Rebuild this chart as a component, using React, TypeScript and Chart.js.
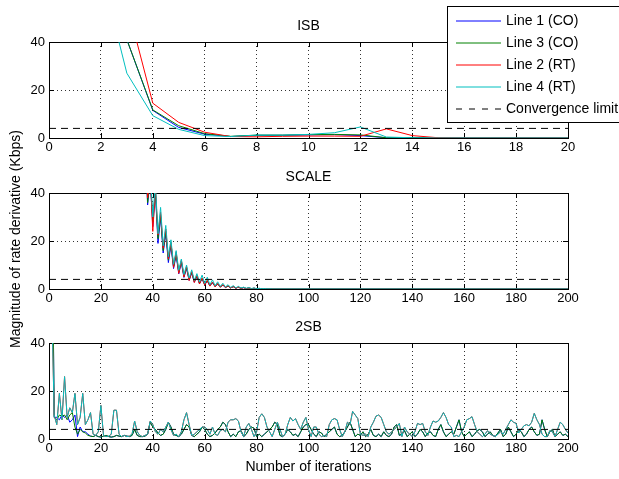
import React, { useEffect, useRef } from "react";
import { Chart, registerables } from "chart.js";

Chart.register(...registerables);

const FONT = "'Liberation Sans', Arial, Helvetica, sans-serif";

// ---------- shared labels / styles ----------
const legendLabels = ["Line 1 (CO)", "Line 3 (CO)", "Line 2 (RT)", "Line 4 (RT)", "Convergence limit"];
const lineColors = ["#0000ff", "#008000", "#ff0000", "#00bfbf", "#000000"];
const panelTitles = ["ISB", "SCALE", "2SB"];
const yAxisTitle = "Magnitude of rate derivative (Kbps)";
const xAxisTitle = "Number of iterations";
const convergenceLimit = 4;
const yTicks = [0, 20, 40];
const isbXTicks = [0, 2, 4, 6, 8, 10, 12, 14, 16, 18, 20];
const longXTicks = [0, 20, 40, 60, 80, 100, 120, 140, 160, 180, 200];

// ---------- ISB (iterations 1..20) ----------
const isbLine1 = [150, 90, 41, 11.5, 4.4, 1.6, 0.6, 1.1, 1.1, 1.3, 1.4, 1.0, 0.1, 0.1, 0, 0, 0, 0, 0, 0];
const isbLine3 = [150, 90, 41, 11.7, 5.1, 1.8, 0.7, 1.2, 1.2, 1.4, 1.5, 1.3, 0.1, 0.1, 0, 0, 0, 0, 0, 0];
const isbLine2 = [200, 120, 56, 14.5, 6.5, 2.4, 0.6, 0.5, 0.7, 0.8, 0.8, 0.7, 3.8, 1.0, 0.1, 0, 0, 0, 0, 0];
const isbLine4 = [150, 70, 27, 9.3, 3.6, 1.0, 0.6, 1.2, 1.2, 1.5, 2.2, 4.6, 0.4, 0.1, 0, 0, 0, 0, 0, 0];

// ---------- SCALE ----------
const scaleIterations = [34, 35, 36, 37, 38, 39, 40, 41, 42, 43, 44, 45, 46, 47, 48, 49, 50, 51, 52, 53, 54, 55, 56, 57, 58, 59, 60, 61, 62, 63, 64, 65, 66, 67, 68, 69, 70, 71, 72, 73, 74, 75, 76, 77, 78, 79, 80, 81, 82, 83, 84, 85, 86, 200];
const scaleLine1 = [58, 70, 50, 62, 35, 46, 26, 40.5, 19, 30, 15, 23, 11, 18, 8.5, 14, 6.3, 11, 4.8, 8.5, 3.6, 6.6, 2.8, 5.2, 2.2, 4.2, 1.7, 3.3, 1.3, 2.6, 1.0, 2.0, 0.8, 1.6, 0.6, 1.2, 0.45, 0.95, 0.35, 0.75, 0.25, 0.55, 0.18, 0.4, 0.12, 0.3, 0.08, 0.2, 0.05, 0.12, 0.03, 0.06, 0, 0];
const scaleLine3 = [58, 70, 50, 62, 36, 47, 28, 41, 21, 31, 16, 24, 12, 19, 9.3, 14.8, 7, 11.6, 5.3, 9, 4, 7, 3.1, 5.5, 2.4, 4.4, 1.9, 3.5, 1.5, 2.8, 1.1, 2.2, 0.9, 1.7, 0.7, 1.3, 0.5, 1.0, 0.4, 0.8, 0.3, 0.6, 0.2, 0.45, 0.15, 0.32, 0.1, 0.22, 0.06, 0.13, 0.04, 0.07, 0, 0];
const scaleLine2 = [60, 72, 52, 64, 38, 48, 24, 42, 22.5, 32, 17, 25, 12.5, 19.5, 9, 15.5, 6.5, 12, 5, 9.4, 3.5, 7.3, 2.7, 5.7, 2.1, 4.6, 1.6, 3.6, 1.2, 2.9, 0.9, 2.3, 0.7, 1.8, 0.55, 1.4, 0.4, 1.05, 0.3, 0.8, 0.22, 0.6, 0.15, 0.45, 0.1, 0.33, 0.07, 0.22, 0.05, 0.14, 0.03, 0.07, 0, 0];
const scaleLine4 = [62, 74, 54, 66, 40, 50, 30, 44, 23, 34, 18, 26.5, 13.5, 20.5, 10.3, 16, 7.8, 12.5, 6, 10, 4.6, 8, 3.6, 6.4, 2.9, 5.8, 2.3, 4.9, 1.8, 3.8, 1.4, 3.0, 1.1, 2.4, 0.85, 1.8, 0.65, 1.4, 0.5, 1.1, 0.38, 0.8, 0.28, 0.6, 0.2, 0.42, 0.14, 0.3, 0.1, 0.2, 0.06, 0.12, 0.02, 0];

// ---------- 2SB (iterations 1..200) ----------
const sb2CO = [
  120, 9, 8, 10, 9.5, 10, 8, 10, 11, 5,
  2, 4, 3, 2.5, 1.5, 1.2, 1, 1.5, 1, 0.8,
  1.2, 1.5, 1, 0.8, 1, 1.5, 1.2, 1, 1.5, 1.2,
  1, 1.5, 4, 1.5, 1, 1, 1.2, 2, 7, 5,
  4, 2.5, 1.5, 2, 4, 7, 5, 2, 1.5, 1,
  2, 4, 6, 5, 1.5, 1, 2, 3, 5, 4,
  2, 1, 1.5, 2.5, 4, 5, 7, 6, 3, 1,
  2, 1, 3, 3.5, 1, 2, 4, 5, 4.5, 1,
  2, 1, 2, 3, 4, 5, 7, 6, 1.5, 1,
  2, 4, 3, 1.5, 2, 1, 3, 5, 6, 6,
  4, 2, 1, 3, 2.5, 1, 2, 3, 4, 5,
  2, 1, 1.5, 3, 5, 7, 4, 1, 2, 1.5,
  3, 1, 2, 4, 1.5, 1, 2, 1, 3, 1.5,
  1, 2, 5, 6, 1.5, 2, 3.5, 1, 2, 3,
  1, 2, 4, 3, 1, 2.5, 3, 1.5, 1, 4,
  6, 3, 1, 2, 3, 2, 5, 8, 3, 1,
  2, 3, 1, 2, 3.5, 4, 3, 1, 2, 3,
  1.5, 1, 2.5, 4, 1, 2, 5, 3, 1, 2,
  4, 3, 1, 2, 4, 5, 3, 1.5, 2, 8,
  4, 1, 3, 4, 1, 2, 3, 1.5, 2, 1,
];
const sb2Line1Start = [120, 9, 9, 8, 10, 9, 10, 7, 8, 10, 1, 5, 3, 3, 2];
const sb2RT = [
  60, 10, 6, 19, 8, 26, 9, 13, 11, 19,
  6, 9, 19, 6, 8, 11, 2, 1.5, 3, 14,
  1.5, 1, 1.2, 2, 12, 12, 2, 1, 1.5, 1,
  1.2, 2, 7.5, 3, 1.5, 1, 1.5, 2, 7.5, 6,
  3, 2, 4, 3, 5, 7, 4, 1.5, 2, 1,
  3, 8, 11, 6, 1.5, 2, 3, 4, 5, 5,
  4, 2, 5, 2, 1.5, 3.5, 4, 3, 7, 8,
  8, 8.5, 7.5, 3, 1, 5, 6.5, 4, 1, 3,
  9, 10.5, 9, 5, 3, 1, 4, 7, 4, 1,
  2, 6, 9, 7.5, 8.5, 6, 4, 7, 9, 4,
  1, 5, 5, 2, 1, 1.5, 1, 6, 8, 8.5,
  8, 4, 1, 3, 7, 6, 11.5, 10, 8.5, 2,
  1.5, 2, 1, 5, 7, 9.5, 10, 9, 6, 3,
  2, 3, 4, 5, 6.5, 1, 5, 3, 2, 1,
  3, 6.5, 6, 6.5, 3, 1.5, 5, 7.5, 7, 7.5,
  9, 11, 9, 6, 5, 1, 1.5, 1, 3, 5,
  8, 8.5, 9.3, 6, 3, 2, 1, 2, 3.5, 2,
  1.5, 1, 2, 3, 2, 4, 6, 8, 7, 6.5,
  2.5, 4, 5.5, 6, 5.5, 7, 10.7, 8, 6, 2,
  1, 1, 3.5, 3, 1, 4, 7, 6, 4, 2.5,
];
const sb2Line1 = [...sb2Line1Start, ...sb2CO.slice(sb2Line1Start.length)];

// ---------- layout of the three panels (pixels) ----------
const W = 619;
const H = 479;
const PLOT_LEFT = 49;
const PLOT_RIGHT = 568;
const panelTops = [42, 193, 343];
const panelBottoms = [138, 289, 439];
const X_AXIS_H = 20;

type Pt = { x: number; y: number };
const fromIndex = (vals: number[]): Pt[] => vals.map((y, i) => ({ x: i + 1, y }));
const fromIter = (iters: number[], vals: number[]): Pt[] => iters.map((x, i) => ({ x, y: vals[i] }));

function makePanelPlugin(idx: number, extra: (chart: any) => void) {
  return {
    id: "panel" + idx,
    beforeDatasetsDraw(chart: any) {
      const { ctx, chartArea: a, scales } = chart;
      ctx.save();
      ctx.strokeStyle = "#000";
      ctx.lineWidth = 1;
      ctx.setLineDash([]);
      ctx.strokeRect(a.left + 0.5, a.top + 0.5, a.right - a.left, a.bottom - a.top);
      ctx.beginPath();
      const tl = 5;
      scales.x.ticks.forEach((t: any) => {
        const px = Math.round(scales.x.getPixelForValue(t.value)) + 0.5;
        ctx.moveTo(px, a.bottom);
        ctx.lineTo(px, a.bottom - tl);
        ctx.moveTo(px, a.top);
        ctx.lineTo(px, a.top + tl);
      });
      scales.y.ticks.forEach((t: any) => {
        const py = Math.round(scales.y.getPixelForValue(t.value)) + 0.5;
        ctx.moveTo(a.left, py);
        ctx.lineTo(a.left + tl, py);
        ctx.moveTo(a.right, py);
        ctx.lineTo(a.right - tl, py);
      });
      ctx.stroke();
      ctx.restore();
    },
    afterDraw(chart: any) {
      const { ctx, chartArea: a } = chart;
      ctx.save();
      ctx.fillStyle = "#000";
      ctx.font = `14px ${FONT}`;
      ctx.textAlign = "center";
      ctx.textBaseline = "middle";
      ctx.fillText(panelTitles[idx], (a.left + a.right) / 2, a.top - 16);
      ctx.restore();
      extra(chart);
    },
  };
}

function drawLegend(chart: any) {
  const ctx = chart.ctx;
  ctx.save();
  ctx.fillStyle = "#fff";
  ctx.fillRect(447, 6, 180, 116);
  ctx.strokeStyle = "#000";
  ctx.lineWidth = 1;
  ctx.strokeRect(447.5, 6.5, 180, 116);
  legendLabels.forEach((label, i) => {
    const y = 21 + 22 * i;
    ctx.beginPath();
    ctx.strokeStyle = lineColors[i];
    ctx.lineWidth = 1;
    ctx.setLineDash(i === 4 ? [6, 7] : []);
    ctx.moveTo(456, y);
    ctx.lineTo(501, y);
    ctx.stroke();
    ctx.setLineDash([]);
    ctx.fillStyle = "#000";
    ctx.font = `14px ${FONT}`;
    ctx.textAlign = "left";
    ctx.textBaseline = "middle";
    ctx.fillText(label, 506, y + 0.5);
  });
  ctx.restore();
}

function drawYTitle(chart: any) {
  const ctx = chart.ctx;
  ctx.save();
  ctx.translate(16, 239);
  ctx.rotate(-Math.PI / 2);
  ctx.fillStyle = "#000";
  ctx.font = `14px ${FONT}`;
  ctx.textAlign = "center";
  ctx.textBaseline = "middle";
  ctx.fillText(yAxisTitle, 0, 0);
  ctx.restore();
}

function drawXTitle(chart: any) {
  const ctx = chart.ctx;
  ctx.save();
  ctx.fillStyle = "#000";
  ctx.font = `14px ${FONT}`;
  ctx.textAlign = "center";
  ctx.textBaseline = "middle";
  ctx.fillText(xAxisTitle, (PLOT_LEFT + PLOT_RIGHT) / 2, 467);
  ctx.restore();
}

function buildConfig(idx: number, series: Pt[][], xMax: number, xTicks: number[], extra: (c: any) => void): any {
  const datasets: any[] = series.map((pts, i) => ({
    label: legendLabels[i],
    data: pts,
    borderColor: lineColors[i],
    backgroundColor: lineColors[i],
    borderWidth: 1,
    pointRadius: 0,
    tension: 0,
    fill: false,
    order: 5 - i,
  }));
  datasets.push({
    label: legendLabels[4],
    data: [
      { x: 0, y: convergenceLimit },
      { x: xMax, y: convergenceLimit },
    ],
    borderColor: "#000",
    borderWidth: 1,
    borderDash: [7, 5],
    pointRadius: 0,
    fill: false,
    order: 1,
  });
  return {
    type: "line",
    data: { datasets },
    options: {
      animation: false,
      responsive: false,
      devicePixelRatio: 1,
      events: [],
      parsing: true,
      layout: {
        padding: {
          left: 0,
          right: W - PLOT_RIGHT,
          top: panelTops[idx],
          bottom: H - panelBottoms[idx] - X_AXIS_H,
        },
      },
      plugins: { legend: { display: false }, title: { display: false }, tooltip: { enabled: false } },
      scales: {
        x: {
          type: "linear",
          min: 0,
          max: xMax,
          afterBuildTicks: (axis: any) => {
            axis.ticks = xTicks.map((v) => ({ value: v }));
          },
          afterFit: (axis: any) => {
            axis.height = X_AXIS_H;
          },
          ticks: {
            autoSkip: false,
            maxRotation: 0,
            padding: 2,
            color: "#000",
            font: { family: FONT, size: 13 },
          },
          grid: { color: "#333", lineWidth: 1, drawTicks: false },
          border: { display: false, dash: [1, 3] },
        },
        y: {
          type: "linear",
          min: 0,
          max: 40,
          afterBuildTicks: (axis: any) => {
            axis.ticks = yTicks.map((v) => ({ value: v }));
          },
          afterFit: (axis: any) => {
            axis.width = PLOT_LEFT;
          },
          ticks: {
            padding: 4,
            color: "#000",
            font: { family: FONT, size: 13 },
          },
          grid: { color: "#333", lineWidth: 1, drawTicks: false },
          border: { display: false, dash: [1, 3] },
        },
      },
    },
    plugins: [makePanelPlugin(idx, extra)],
  };
}

export default function App() {
  const c1 = useRef<HTMLCanvasElement>(null);
  const c2 = useRef<HTMLCanvasElement>(null);
  const c3 = useRef<HTMLCanvasElement>(null);

  useEffect(() => {
    const charts: Chart[] = [];
    charts.push(
      new Chart(
        c1.current!,
        buildConfig(
          0,
          [fromIndex(isbLine1), fromIndex(isbLine3), fromIndex(isbLine2), fromIndex(isbLine4)],
          20,
          isbXTicks,
          () => {}
        )
      )
    );
    charts.push(
      new Chart(
        c2.current!,
        buildConfig(
          1,
          [
            fromIter(scaleIterations, scaleLine1),
            fromIter(scaleIterations, scaleLine3),
            fromIter(scaleIterations, scaleLine2),
            fromIter(scaleIterations, scaleLine4),
          ],
          200,
          longXTicks,
          drawYTitle
        )
      )
    );
    charts.push(
      new Chart(
        c3.current!,
        buildConfig(
          2,
          [fromIndex(sb2Line1), fromIndex(sb2CO), fromIndex(sb2RT), fromIndex(sb2RT)],
          200,
          longXTicks,
          drawXTitle
        )
      )
    );
    // legend is drawn last, on top of everything
    const legendChart = new Chart(c4.current!, {
      type: "line",
      data: { datasets: [] },
      options: {
        animation: false,
        responsive: false,
        devicePixelRatio: 1,
        events: [],
        plugins: { legend: { display: false }, tooltip: { enabled: false } },
        scales: { x: { display: false }, y: { display: false } },
      },
      plugins: [{ id: "legendBox", afterDraw: (c: any) => drawLegend(c) }],
    } as any);
    charts.push(legendChart);
    return () => charts.forEach((c) => c.destroy());
  }, []);

  const c4 = useRef<HTMLCanvasElement>(null);
  const style: React.CSSProperties = { position: "absolute", left: 0, top: 0 };
  return (
    <div style={{ position: "fixed", left: 0, top: 0, width: W, height: H, background: "#fff", overflow: "hidden" }}>
      <canvas ref={c1} width={W} height={H} style={style} />
      <canvas ref={c2} width={W} height={H} style={style} />
      <canvas ref={c3} width={W} height={H} style={style} />
      <canvas ref={c4} width={W} height={H} style={style} />
    </div>
  );
}
